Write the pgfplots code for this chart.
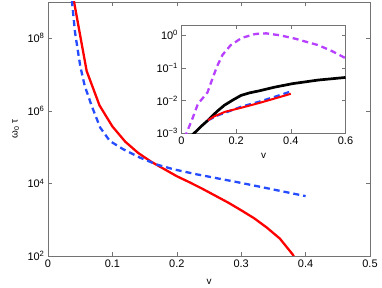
\documentclass[border=0pt]{standalone}
\usepackage{fontspec}
\setmainfont{Liberation Sans}
\usepackage{pgfplots}
\pgfplotsset{compat=1.18}
\definecolor{fgray}{gray}{0.45}
\definecolor{mred}{rgb}{1,0,0}
\definecolor{mblue}{rgb}{0.15,0.3,1}
\definecolor{mpurple}{rgb}{0.72,0.25,1}
\pgfplotsset{
  mystyle/.style={
    scale only axis,
    anchor=south west,
    axis line style={fgray},
    every tick/.style={fgray},
    tick align=inside,
    major tick length=4bp,
    yminorticks=false,
    tick label style={font=\fontsize{11}{13}\selectfont, text=black},
    label style={font=\fontsize{12}{14}\selectfont},
  }
}
\begin{document}
\begin{tikzpicture}
\useasboundingbox (0,0) rectangle (382bp,288bp);
\begin{axis}[ymode=log, mystyle,
  at={(48bp,32bp)}, width=322bp, height=254bp,
  xmin=0, xmax=0.5, ymin=1e2, ymax=1e9,
  xtick={0,0.1,0.2,0.3,0.4,0.5},
  xticklabels={0,0.1,0.2,0.3,0.4,0.5},
  ytick={1e2,1e4,1e6,1e8},
  yticklabels={10\textsuperscript{2},10\textsuperscript{4},10\textsuperscript{6},10\textsuperscript{8}},
  xlabel={v},
  ylabel={ω\textsubscript{0} τ},
  every axis x label/.style={at={(axis description cs:0.5,-0.1)}, anchor=center},
  every axis y label/.style={at={(axis description cs:-0.1,0.5)}, anchor=center, rotate=90},
]
\addplot[mred, line width=2.3bp] coordinates {
(0.04,1.12e9) (0.06,1.26e7) (0.08,1.41e6) (0.10,3.72e5) (0.12,1.41e5)
(0.14,6.92e4) (0.16,3.98e4) (0.18,2.51e4) (0.20,1.58e4) (0.22,1.07e4)
(0.24,7.08e3) (0.26,4.57e3) (0.28,2.95e3) (0.30,1.82e3) (0.32,1.10e3)
(0.34,603) (0.36,302) (0.38,110) (0.39,50)
};
\addplot[mblue, line width=2.3bp, dash pattern=on 6bp off 4bp] coordinates {
(0.037,1.12e9) (0.042,1.45e8) (0.05,1.74e7) (0.057,4.9e6) (0.068,1.35e6)
(0.081,3.47e5) (0.096,1.48e5) (0.117,8.71e4) (0.143,5.13e4) (0.169,3.31e4)
(0.195,2.45e4) (0.231,1.78e4) (0.298,1.05e4) (0.4,4.47e3)
};
\end{axis}
\begin{axis}[ymode=log, mystyle,
  at={(181.5bp,154.7bp)}, width=164bp, height=107.8bp,
  axis background/.style={fill=white},
  xmin=0, xmax=0.6, ymin=1e-3, ymax=2,
  xtick={0,0.2,0.4,0.6},
  xticklabels={0,0.2,0.4,0.6},
  ytick={1e-3,1e-2,1e-1,1},
  yticklabels={10\textsuperscript{−3},10\textsuperscript{−2},10\textsuperscript{−1},10\textsuperscript{0}},
  xlabel={v},
  every axis x label/.style={at={(axis description cs:0.5,-0.21)}, anchor=center},
]
\addplot[mpurple, line width=2.3bp, dash pattern=on 6bp off 4bp] coordinates {
(0.015,7e-4) (0.018,1e-3) (0.04,2.82e-3) (0.06,7.94e-3) (0.08,1.26e-2) (0.095,1.78e-2)
(0.11,3.98e-2) (0.13,0.112) (0.15,0.251) (0.18,0.501) (0.22,0.832)
(0.27,1.10) (0.31,1.15) (0.36,1.0) (0.41,0.813) (0.5,0.501) (0.55,0.331) (0.6,0.2)
};
\addplot[black, line width=2.7bp] coordinates {
(0.04,8.9e-4) (0.07,1.58e-3) (0.097,2.51e-3) (0.13,4.68e-3) (0.157,7.24e-3)
(0.19,1.07e-2) (0.218,1.45e-2) (0.25,1.74e-2) (0.285,2.0e-2) (0.339,2.57e-2)
(0.406,3.31e-2) (0.5,4.27e-2) (0.6,5.13e-2)
};
\addplot[mblue, line width=2.3bp, dash pattern=on 6bp off 4bp] coordinates {
(0.097,2.51e-3) (0.133,3.55e-3) (0.218,6.46e-3) (0.285,9.33e-3) (0.339,1.29e-2) (0.4,1.91e-2)
};
\addplot[mred, line width=2bp] coordinates {
(0.097,2.51e-3) (0.12,3.31e-3) (0.16,4.57e-3) (0.218,6.03e-3) (0.285,8.51e-3) (0.339,1.15e-2) (0.4,1.62e-2)
};
\end{axis}
\end{tikzpicture}
\end{document}
